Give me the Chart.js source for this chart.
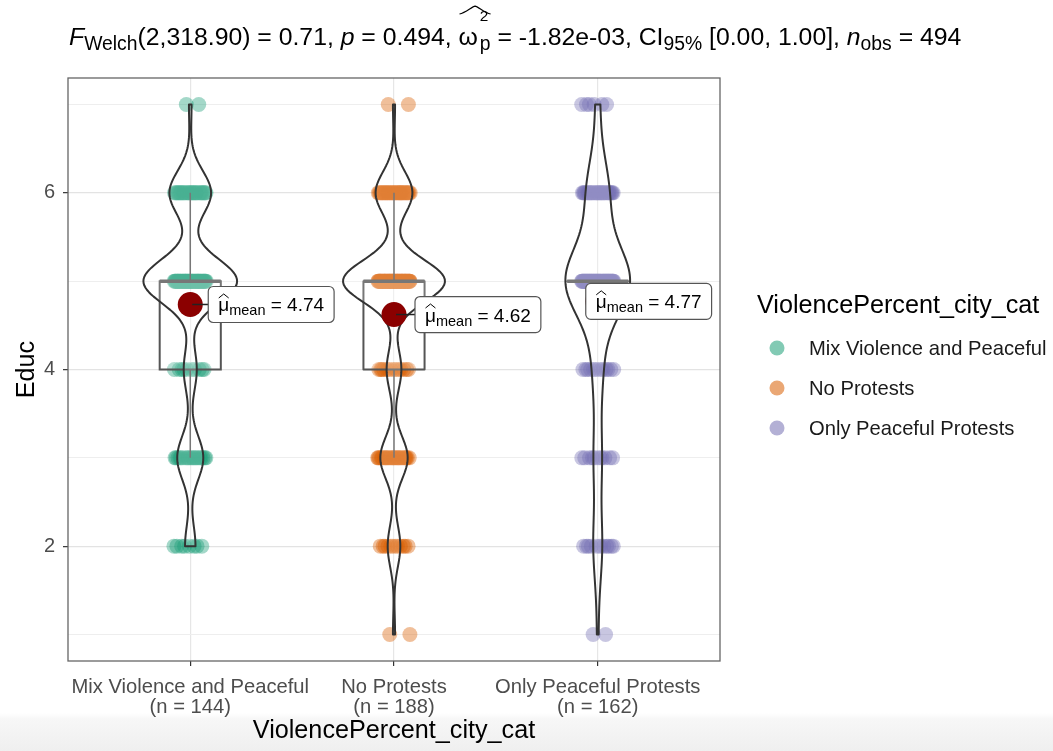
<!DOCTYPE html>
<html>
<head>
<meta charset="utf-8">
<script src="https://cdn.jsdelivr.net/npm/chart.js@4.4.1/dist/chart.umd.min.js"></script>
<style>
  html, body { margin: 0; padding: 0; }
  body {
    width: 1053px; height: 751px; overflow: hidden;
    background: linear-gradient(to bottom, #fff 0px, #fff 713px, #f7f7f7 719px, #efefef 751px);
  }
</style>
</head>
<body>
<canvas id="chart" width="1053" height="751"></canvas>
<script>
// data
const groups = ["Mix Violence and Peaceful", "No Protests", "Only Peaceful Protests"];
const groupN = [144, 188, 162];
const educLevels = [1, 2, 3, 4, 5, 6, 7];
const countsMix = [0, 8, 20, 10, 72, 32, 2];
const countsNoProtest = [2, 12, 26, 14, 97, 35, 2];
const countsPeaceful = [2, 12, 11, 13, 88, 30, 6];
const yTicks = [1, 2, 3, 4, 5, 6, 7];
const yTickLabels = ["", "2", "", "4", "", "6", ""];
const xTitle = "ViolencePercent_city_cat";
const yTitle = "Educ";

const groupCounts = [countsMix, countsNoProtest, countsPeaceful];
const groupColors = ["#1B9E77", "#D95F02", "#7570B3"];
const labelShift = [18, 21, -12];   // where the mean labels sit, px from the mean point

const FONT = "'Liberation Sans', Arial, Helvetica, sans-serif";
const font = (size, italic) => (italic ? "italic " : "") + size + "px " + FONT;

function rgba(hex, a){
  const n = parseInt(hex.slice(1), 16);
  return `rgba(${n >> 16},${(n >> 8) & 255},${n & 255},${a})`;
}

function expand(counts){
  const out = [];
  counts.forEach((c, i) => { for (let k = 0; k < c; k++) out.push(educLevels[i]); });
  return out;
}

function quantile(sorted, p){
  const h = (sorted.length - 1) * p;
  const lo = Math.floor(h);
  const hi = Math.min(lo + 1, sorted.length - 1);
  return sorted[lo] + (h - lo) * (sorted[hi] - sorted[lo]);
}

// same rule as R's bw.nrd0
function bwNrd0(vals){
  const n = vals.length;
  const m = vals.reduce((a, b) => a + b, 0) / n;
  const sd = Math.sqrt(vals.reduce((a, b) => a + (b - m) * (b - m), 0) / (n - 1));
  const s = vals.slice().sort((a, b) => a - b);
  const iqr = quantile(s, 0.75) - quantile(s, 0.25);
  const lo = Math.min(sd, iqr / 1.34) || sd || 1;
  return 0.9 * lo * Math.pow(n, -0.2);
}

function density(counts, bw, y){
  let s = 0, n = 0;
  counts.forEach((c, i) => {
    const z = (y - educLevels[i]) / bw;
    s += c * Math.exp(-0.5 * z * z);
    n += c;
  });
  return s / (n * bw * Math.sqrt(2 * Math.PI));
}

const stats = groupCounts.map(counts => {
  const vals = expand(counts).sort((a, b) => a - b);
  const q1 = quantile(vals, 0.25), med = quantile(vals, 0.5), q3 = quantile(vals, 0.75);
  const iqr = q3 - q1;
  const inside = vals.filter(v => v >= q1 - 1.5 * iqr && v <= q3 + 1.5 * iqr);
  const bw = bwNrd0(vals);
  const ys = [], dens = [];
  const lo = vals[0], hi = vals[vals.length - 1];
  for (let i = 0; i <= 200; i++){
    const y = lo + (hi - lo) * i / 200;
    ys.push(y);
    dens.push(density(counts, bw, y));
  }
  return {
    mean: vals.reduce((a, b) => a + b, 0) / vals.length,
    q1, med, q3, wLo: inside[0], wHi: inside[inside.length - 1], ys, dens
  };
});
const maxDens = Math.max(...stats.map(s => Math.max(...s.dens)));

// jittered points, spread with a fixed sequence so the picture is stable
function jitterPoints(counts, g){
  const pts = [];
  let k = 0;
  counts.forEach((c, i) => {
    for (let j = 0; j < c; j++){
      const f = ((k * 0.618034 + g * 0.37) % 1) - 0.5;
      pts.push({ x: g + 1 + f * 0.16, y: educLevels[i] });
      k++;
    }
  });
  return pts;
}

const meanSet = {
  label: "mean",
  data: stats.map((s, g) => ({ x: g + 1, y: s.mean })),
  backgroundColor: "#8B0000",
  pointRadius: 12.5,
  borderWidth: 0
};
const pointSets = groups.map((name, g) => ({
  label: name,
  data: jitterPoints(groupCounts[g], g),
  backgroundColor: rgba(groupColors[g], 0.4),
  pointRadius: 7.5,
  borderWidth: 0
}));

function drawBoxesAndViolins(chart){
  const { ctx, scales: { x, y } } = chart;
  ctx.save();
  stats.forEach((s, g) => {
    const xc = g + 1;
    // box
    const l = x.getPixelForValue(xc - 0.15), r = x.getPixelForValue(xc + 0.15);
    const px = x.getPixelForValue(xc);
    ctx.strokeStyle = "#555";
    ctx.lineWidth = 1.5;
    ctx.beginPath();
    ctx.moveTo(px, y.getPixelForValue(s.q3)); ctx.lineTo(px, y.getPixelForValue(s.wHi));
    ctx.moveTo(px, y.getPixelForValue(s.q1)); ctx.lineTo(px, y.getPixelForValue(s.wLo));
    ctx.stroke();
    ctx.lineWidth = 2;
    ctx.fillStyle = "rgba(255,255,255,0.2)";
    ctx.beginPath();
    ctx.rect(l, y.getPixelForValue(s.q3), r - l, y.getPixelForValue(s.q1) - y.getPixelForValue(s.q3));
    ctx.fill(); ctx.stroke();
    ctx.lineWidth = 3.5;
    ctx.beginPath();
    ctx.moveTo(l, y.getPixelForValue(s.med)); ctx.lineTo(r, y.getPixelForValue(s.med));
    ctx.stroke();

    // violin
    ctx.beginPath();
    s.ys.forEach((v, i) => {
      const hw = s.dens[i] / maxDens * 0.25;
      const X = x.getPixelForValue(xc + hw), Y = y.getPixelForValue(v);
      i ? ctx.lineTo(X, Y) : ctx.moveTo(X, Y);
    });
    for (let i = s.ys.length - 1; i >= 0; i--){
      const hw = s.dens[i] / maxDens * 0.25;
      ctx.lineTo(x.getPixelForValue(xc - hw), y.getPixelForValue(s.ys[i]));
    }
    ctx.closePath();
    ctx.fillStyle = "rgba(255,255,255,0.2)";
    ctx.fill();
    ctx.strokeStyle = "#333";
    ctx.lineWidth = 2;
    ctx.lineJoin = "round";
    ctx.stroke();
  });
  ctx.restore();
}

function drawMeanLabels(chart){
  const { ctx, scales: { x, y } } = chart;
  ctx.save();
  stats.forEach((s, g) => {
    const px = x.getPixelForValue(g + 1), py = y.getPixelForValue(s.mean);
    const main = 19, sub = 14.5;
    const eq = " = " + s.mean.toFixed(2);
    ctx.font = font(main); const wMu = ctx.measureText("\u03bc").width;
    ctx.font = font(sub); const wSub = ctx.measureText("mean").width;
    ctx.font = font(main); const wEq = ctx.measureText(eq).width;
    const pad = 10, h = 36;
    const w = wMu + wSub + wEq + 2 * pad;
    const bx = px + labelShift[g], by = py - h / 2;
    if (labelShift[g] > 0){
      ctx.strokeStyle = "#222"; ctx.lineWidth = 1.5;
      ctx.beginPath(); ctx.moveTo(px + 2, py); ctx.lineTo(bx, py); ctx.stroke();
    }
    ctx.beginPath();
    ctx.roundRect(bx, by, w, h, 5);
    ctx.fillStyle = "#fff"; ctx.fill();
    ctx.strokeStyle = "#555"; ctx.lineWidth = 1.2; ctx.stroke();

    const base = py + 7;
    let tx = bx + pad;
    ctx.fillStyle = "#000";
    ctx.textBaseline = "alphabetic";
    ctx.font = font(main); ctx.fillText("\u03bc", tx, base);
    ctx.strokeStyle = "#000"; ctx.lineWidth = 1;
    ctx.beginPath();
    ctx.moveTo(tx + 0.5, base - 13.5);
    ctx.lineTo(tx + wMu / 2, base - 17.5);
    ctx.lineTo(tx + wMu - 0.5, base - 13.5);
    ctx.stroke();
    tx += wMu;
    ctx.font = font(sub); ctx.fillText("mean", tx, base + 4);
    tx += wSub;
    ctx.font = font(main); ctx.fillText(eq, tx, base);
  });
  ctx.restore();
}

function drawPanelBorder(chart){
  const { ctx, chartArea: a } = chart;
  ctx.save();
  ctx.strokeStyle = "#666";
  ctx.lineWidth = 1.3;
  ctx.strokeRect(a.left, a.top, a.right - a.left, a.bottom - a.top);
  ctx.restore();
}

// subtitle with the test result
const titleParts = [
  { t: "F", it: true }, { t: "Welch", sub: true }, { t: "(2,318.90) = 0.71, " },
  { t: "p", it: true }, { t: " = 0.494, " }, { omega: true }, { t: " = -1.82e-03, " },
  { t: "CI" }, { t: "95%", sub: true }, { t: " [0.00, 1.00], " },
  { t: "n", it: true }, { t: "obs", sub: true }, { t: " = 494" }
];

function titleLayout(ctx, S){
  let w = 0;
  const items = titleParts.map(p => {
    const it = { p, x: w };
    if (p.omega){
      ctx.font = font(S); const wo = ctx.measureText("\u03c9").width;
      ctx.font = font(S * 0.62); const w2 = ctx.measureText("2").width;
      ctx.font = font(S * 0.78); const wp = ctx.measureText("p").width;
      it.wo = wo;
      it.w = wo + 2 + Math.max(w2, wp);
    } else {
      ctx.font = font(p.sub ? S * 0.78 : S, p.it);
      it.w = ctx.measureText(p.t).width;
    }
    w += it.w;
    return it;
  });
  return { items, w };
}

function drawTitle(chart){
  const { ctx } = chart;
  ctx.save();
  const probe = titleLayout(ctx, 22);
  const S = 22 * 893 / probe.w;
  const { items } = titleLayout(ctx, S);
  const x0 = 69, base = 45;
  ctx.fillStyle = "#000";
  ctx.textBaseline = "alphabetic";
  items.forEach(it => {
    const p = it.p, x = x0 + it.x;
    if (p.omega){
      ctx.font = font(S); ctx.fillText("\u03c9", x, base);
      ctx.font = font(S * 0.62); ctx.fillText("2", x + it.wo + 2, base - 0.95 * S);
      ctx.font = font(S * 0.78); ctx.fillText("p", x + it.wo + 2, base + 0.2 * S);
      ctx.strokeStyle = "#000"; ctx.lineWidth = 1.2;
      const hx = x + 1, hw = it.w - 1;
      ctx.beginPath();
      ctx.moveTo(hx, base - 1.25 * S);
      ctx.bezierCurveTo(hx + hw * 0.2, base - 1.3 * S, hx + hw * 0.4, base - 1.55 * S, hx + hw / 2, base - 1.57 * S);
      ctx.bezierCurveTo(hx + hw * 0.6, base - 1.55 * S, hx + hw * 0.8, base - 1.3 * S, hx + hw, base - 1.25 * S);
      ctx.stroke();
    } else {
      ctx.font = font(p.sub ? S * 0.78 : S, p.it);
      ctx.fillText(p.t, x, p.sub ? base + 0.22 * S : base);
    }
  });
  ctx.restore();
}

function drawLegend(chart){
  const { ctx } = chart;
  ctx.save();
  ctx.fillStyle = "#000";
  ctx.textBaseline = "alphabetic";
  ctx.font = font(25.2);
  ctx.fillText(xTitle, 757, 313);
  ctx.font = font(20.2);
  ctx.textBaseline = "middle";
  pointSets.forEach((ds, i) => {
    const cy = 348 + i * 40;
    ctx.fillStyle = rgba(groupColors[i], 0.55);
    ctx.beginPath(); ctx.arc(777, cy, 7.5, 0, Math.PI * 2); ctx.fill();
    ctx.fillStyle = "#1A1A1A";
    ctx.fillText(ds.label, 809, cy + 1);
  });
  ctx.restore();
}

const violinPlugin = {
  id: "violins",
  beforeDatasetDraw(chart, args){
    if (args.index === 0) drawBoxesAndViolins(chart);
  },
  afterDatasetsDraw(chart){
    drawMeanLabels(chart);
    drawPanelBorder(chart);
  },
  afterDraw(chart){
    drawTitle(chart);
    drawLegend(chart);
  }
};

new Chart(document.getElementById("chart"), {
  type: "scatter",
  data: { datasets: [meanSet, ...pointSets] },
  plugins: [violinPlugin],
  options: {
    responsive: false,
    animation: false,
    events: [],
    layout: { padding: { left: 0, top: 78, right: 333, bottom: 0 } },
    plugins: { legend: { display: false }, tooltip: { enabled: false }, title: { display: false } },
    scales: {
      x: {
        type: "linear", min: 0.4, max: 3.6,
        afterFit: s => { s.height = 90; },
        afterBuildTicks: s => { s.ticks = groups.map((_, i) => ({ value: i + 1 })); },
        ticks: {
          callback: v => [groups[v - 1], `(n = ${groupN[v - 1]})`],
          color: "#4D4D4D", font: { family: FONT, size: 20.2, lineHeight: 1.0 },
          padding: 11, maxRotation: 0, autoSkip: false
        },
        grid: { color: "#E6E6E6", lineWidth: 1.2, tickLength: 5, tickColor: "#333", tickWidth: 1.2 },
        border: { display: false },
        title: { display: true, text: xTitle, color: "#000", font: { family: FONT, size: 25.2 }, padding: { top: 0, bottom: 5 } }
      },
      y: {
        min: 0.7, max: 7.3,
        afterFit: s => { s.width = 68; },
        afterBuildTicks: s => { s.ticks = yTicks.map(v => ({ value: v })); },
        ticks: {
          callback: (v, i) => yTickLabels[i],
          color: "#4D4D4D", font: { family: FONT, size: 20 }, padding: 8
        },
        grid: {
          color: c => (c.tick && c.tick.value % 2 === 0) ? "#E3E3E3" : "#EEEEEE",
          lineWidth: c => (c.tick && c.tick.value % 2 === 0) ? 1.3 : 1,
          tickLength: 5,
          tickColor: c => (c.tick && c.tick.value % 2 === 0) ? "#333" : "rgba(0,0,0,0)",
          tickWidth: 1.2
        },
        border: { display: false },
        title: { display: true, text: yTitle, color: "#000", font: { family: FONT, size: 25.2 }, padding: { top: 12, bottom: 0 } }
      }
    }
  }
});
</script>
</body>
</html>
